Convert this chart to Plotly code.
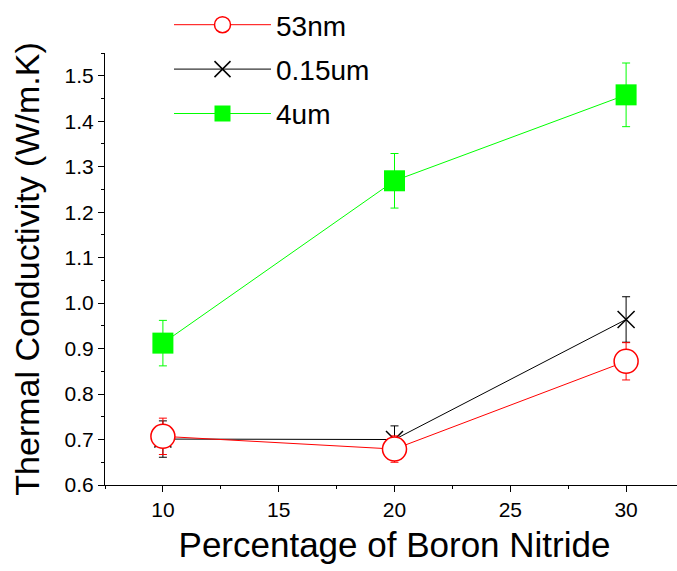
import plotly.graph_objects as go

x = [10, 20, 30]
nm53 = [0.707, 0.679, 0.872]
nm53_err = [0.040, 0.029, 0.041]
um015 = [0.701, 0.700, 0.964]
um015_err = [0.040, 0.030, 0.050]
um4 = [0.912, 1.269, 1.458]
um4_err = [0.050, 0.060, 0.070]

FONT = "Arial, Liberation Sans, sans-serif"
# the original chart is cropped on the right: the figure is slightly wider than the window
W, H = 692, 571
ML, MR, MB = 105, 8, 86
PLOT_TOP = 53

fig = go.Figure()
fig.add_trace(go.Scatter(
    x=x, y=um4, name="4um", mode="lines+markers", legendrank=3, legendgroup="c",
    line=dict(color="#00FF00", width=1),
    marker=dict(symbol="square", size=21, color="#00FF00"),
    error_y=dict(type="data", array=um4_err, color="#00FF00", thickness=1, width=4),
))
fig.add_trace(go.Scatter(
    x=x, y=um015, name="0.15um", mode="lines+markers", legendrank=2, legendgroup="b",
    line=dict(color="black", width=1),
    marker=dict(symbol="x-thin", size=17, color="black", line=dict(color="black", width=1.5)),
    error_y=dict(type="data", array=um015_err, color="black", thickness=1, width=4),
))
fig.add_trace(go.Scatter(
    x=x, y=nm53, name="53nm", mode="lines+markers", legendrank=1, legendgroup="a",
    line=dict(color="#FF0000", width=1),
    marker=dict(symbol="circle", size=24, color="white", line=dict(color="#FF0000", width=1.5)),
    error_y=dict(type="data", array=nm53_err, color="#FF0000", thickness=1, width=4),
))

axis_common = dict(
    showline=True, linecolor="black", linewidth=1, mirror=False,
    ticks="outside", ticklen=6, tickwidth=1, tickcolor="black",
    showgrid=False, zeroline=False, automargin=False,
    tickfont=dict(family=FONT, size=21, color="black"),
)

paper_h = H - MB
fig.update_xaxes(
    range=[7.5, 32.5], tickvals=[10, 15, 20, 25, 30],
    minor=dict(ticks="outside", ticklen=3, tickwidth=1, tickcolor="black", dtick=2.5, tick0=0),
    title=dict(text="Percentage of Boron Nitride", font=dict(family=FONT, size=35, color="black"), standoff=12),
    **axis_common,
)
fig.update_yaxes(
    domain=[0, (paper_h - PLOT_TOP) / paper_h],
    range=[0.6, 1.55], dtick=0.1, tick0=0.6, tickformat=".1f",
    minor=dict(ticks="outside", ticklen=3, tickwidth=1, tickcolor="black", dtick=0.05, tick0=0.6),
    title=dict(text="Thermal Conductivity (W/m.K)", font=dict(family=FONT, size=34, color="black"), standoff=14),
    **axis_common,
)

fig.update_layout(
    width=W, height=H,
    margin=dict(l=ML, r=MR, t=0, b=MB),
    paper_bgcolor="white", plot_bgcolor="white",
    showlegend=True,
    legend=dict(
        x=(169 - ML) / (W - ML - MR), y=1.0, xanchor="left", yanchor="top",
        font=dict(family=FONT, size=28, color="black"),
        bgcolor="rgba(0,0,0,0)", itemwidth=97, tracegroupgap=5,
    ),
)

fig.write_html(
    "out.html",
    config={"displayModeBar": False},
    post_script="document.body.style.margin='0';document.body.style.overflow='hidden';",
)
